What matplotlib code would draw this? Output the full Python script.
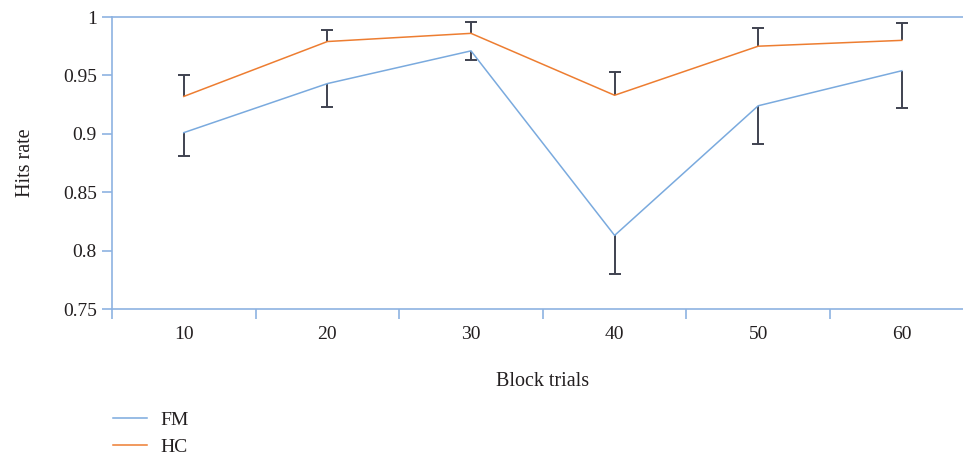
import matplotlib
matplotlib.use("Agg")
import matplotlib.pyplot as plt
import numpy as np
from matplotlib.ticker import FixedLocator

categories = ["10", "20", "30", "40", "50", "60"]
fm_mean = [0.901, 0.943, 0.971, 0.813, 0.924, 0.954]
fm_err_low = [0.020, 0.020, 0.008, 0.033, 0.033, 0.032]
hc_mean = [0.932, 0.979, 0.986, 0.933, 0.975, 0.980]
hc_err_high = [0.018, 0.010, 0.010, 0.020, 0.016, 0.015]

plt.rcParams['font.family'] = ['Liberation Serif', 'DejaVu Serif']

axis_color = "#8db3e2"
fm_color = "#7aaade"
hc_color = "#ed7d31"
err_color = "#3f4250"
text_color = "#231f20"

fig = plt.figure(figsize=(9.63, 4.58), dpi=100)
ax = fig.add_axes([112/963, 1 - 309/458, 861.6/963, (309 - 17)/458])

x = np.arange(len(categories))
fm_low = np.array(fm_mean) - np.array(fm_err_low)
hc_high = np.array(hc_mean) + np.array(hc_err_high)

# one-sided error bars: stems + caps at the far end only
ax.vlines(x, fm_low, fm_mean, color=err_color, lw=1.4, zorder=2)
ax.plot(x, fm_low, ls='none', marker='_', markersize=8, markeredgewidth=1.4,
        color=err_color, zorder=2)
ax.vlines(x, hc_mean, hc_high, color=err_color, lw=1.4, zorder=2)
ax.plot(x, hc_high, ls='none', marker='_', markersize=8, markeredgewidth=1.4,
        color=err_color, zorder=2)

ax.plot(x, fm_mean, color=fm_color, lw=1.1, label="FM", zorder=3)
ax.plot(x, hc_mean, color=hc_color, lw=1.1, label="HC", zorder=3)

ax.set_xlim(-0.5, len(categories) - 0.5)
ax.set_ylim(0.75, 1.0)
ax.set_yticks([0.75, 0.8, 0.85, 0.9, 0.95, 1.0])
ax.set_yticklabels(["0.75", "0.8", "0.85", "0.9", "0.95", "1"])
ax.set_xticks(x)
ax.set_xticklabels(categories)
ax.xaxis.set_minor_locator(FixedLocator(np.arange(-0.5, len(categories), 1.0)))
ax.tick_params(axis='x', which='major', length=0, pad=12, labelsize=14, labelcolor=text_color)
ax.tick_params(axis='x', which='minor', length=7, width=1.2, color=axis_color, direction='out')
ax.tick_params(axis='y', which='major', length=7, width=1.2, color=axis_color, labelsize=14,
               labelcolor=text_color, pad=4)

for s in ['left', 'bottom', 'top']:
    ax.spines[s].set_color(axis_color)
    ax.spines[s].set_linewidth(1.2)
ax.spines['right'].set_visible(False)

ax.set_xlabel("Block trials", fontsize=14.5, color=text_color, labelpad=21)
ax.set_ylabel("Hits rate", fontsize=14.5, color=text_color, labelpad=20)

fig.legend(loc='upper left', bbox_to_anchor=(113/963, 1 - 411/458), frameon=False,
           fontsize=14, handlelength=1.75, handletextpad=0.7, labelspacing=0.48,
           borderpad=0, borderaxespad=0, labelcolor=text_color)

fig.savefig("out.png", dpi=100)
